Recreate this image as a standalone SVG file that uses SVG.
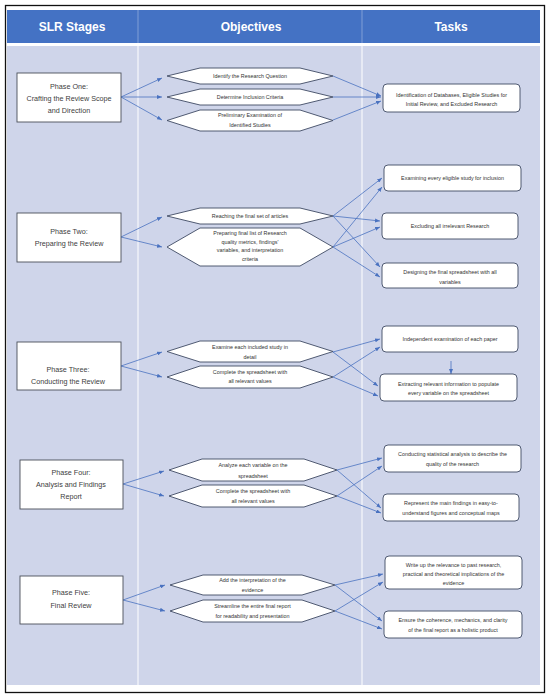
<svg xmlns="http://www.w3.org/2000/svg" width="550" height="696" viewBox="0 0 550 696">
<style>
.hdr{font-family:"Liberation Sans",Arial,sans-serif;font-weight:bold;font-size:12px;fill:#fff;text-anchor:middle}
.ph{fill:#fff;stroke:#4a4f5a;stroke-width:0.9}
.pt{font-family:"Liberation Sans",Arial,sans-serif;font-size:7.2px;fill:#404040;text-anchor:middle}
.hx{fill:#fff;stroke:#3e4a63;stroke-width:0.9}
.ht{font-family:"Liberation Sans",Arial,sans-serif;font-size:5.4px;fill:#333;text-anchor:middle}
.tb{fill:#fff;stroke:#3e4a63;stroke-width:0.9}
.tt{font-family:"Liberation Sans",Arial,sans-serif;font-size:5.4px;fill:#333;text-anchor:middle}
.c{stroke:#4a72c0;stroke-width:0.8;fill:none;marker-end:url(#ah)}
</style>
<defs>
<marker id="ah" viewBox="0 0 10 8" refX="10" refY="4" markerWidth="5" markerHeight="4" markerUnits="userSpaceOnUse" orient="auto">
<path d="M0,0 L10,4 L0,8 z" fill="#4a72c0"/>
</marker>
</defs>
<rect x="0" y="0" width="550" height="696" fill="#fff"/>
<rect x="5.5" y="5.5" width="539" height="687" fill="#fff" stroke="#111" stroke-width="1.3"/>
<g id="header">
<rect x="7" y="10" width="533" height="33" fill="#4472C4"/>
<line x1="138" y1="10" x2="138" y2="43" stroke="#8faadc" stroke-width="0.8"/>
<line x1="362" y1="10" x2="362" y2="43" stroke="#8faadc" stroke-width="0.8"/>
<text class="hdr" x="72" y="31">SLR Stages</text>
<text class="hdr" x="251" y="31">Objectives</text>
<text class="hdr" x="451" y="31">Tasks</text>
</g>
<g id="body">
<rect x="7" y="46" width="533" height="639" fill="#CFD5EA"/>
<line x1="138" y1="46" x2="138" y2="685" stroke="#fff" stroke-width="1"/>
<line x1="362" y1="46" x2="362" y2="685" stroke="#fff" stroke-width="1"/>
</g>
<g id="connectors">
<line class="c" x1="121" y1="97" x2="162" y2="78"/>
<line class="c" x1="121" y1="97" x2="162" y2="97"/>
<line class="c" x1="121" y1="97" x2="162" y2="120"/>
<line class="c" x1="333" y1="76" x2="381" y2="96"/>
<line class="c" x1="333" y1="97" x2="381" y2="97"/>
<line class="c" x1="333" y1="120" x2="381" y2="101"/>
<line class="c" x1="121" y1="237" x2="162" y2="217"/>
<line class="c" x1="121" y1="237" x2="162" y2="247"/>
<line class="c" x1="333" y1="216" x2="382" y2="178"/>
<line class="c" x1="333" y1="216" x2="380" y2="221"/>
<line class="c" x1="333" y1="216" x2="380" y2="267"/>
<line class="c" x1="333" y1="247" x2="382" y2="187"/>
<line class="c" x1="333" y1="247" x2="380" y2="227"/>
<line class="c" x1="333" y1="247" x2="380" y2="277"/>
<line class="c" x1="121" y1="366" x2="162" y2="352"/>
<line class="c" x1="121" y1="366" x2="162" y2="377"/>
<line class="c" x1="333" y1="352" x2="380" y2="339"/>
<line class="c" x1="333" y1="352" x2="378" y2="386"/>
<line class="c" x1="333" y1="377" x2="380" y2="347"/>
<line class="c" x1="333" y1="377" x2="378" y2="396"/>
<line class="c" x1="451" y1="361" x2="451" y2="374"/>
<line class="c" x1="123" y1="484" x2="164" y2="471"/>
<line class="c" x1="123" y1="484" x2="164" y2="496"/>
<line class="c" x1="337" y1="470" x2="382" y2="458"/>
<line class="c" x1="337" y1="470" x2="381" y2="508"/>
<line class="c" x1="337" y1="496" x2="382" y2="466"/>
<line class="c" x1="337" y1="496" x2="381" y2="513"/>
<line class="c" x1="123" y1="600" x2="165" y2="585"/>
<line class="c" x1="123" y1="600" x2="165" y2="611"/>
<line class="c" x1="335" y1="585" x2="383" y2="574"/>
<line class="c" x1="335" y1="585" x2="382" y2="621"/>
<line class="c" x1="335" y1="611" x2="383" y2="582"/>
<line class="c" x1="335" y1="611" x2="382" y2="629"/>
</g>
<g id="phase1">
<rect class="ph" x="17" y="73" width="104" height="49"/>
<text class="pt" x="69" y="88.5">Phase One:</text>
<text class="pt" x="69" y="100.5">Crafting the  Review Scope</text>
<text class="pt" x="69" y="112.5">and Direction</text>
</g>
<g id="obj1a"><polygon class="hx" points="167,76 200,68 300,68 333,76 300,84 200,84"/><text class="ht" x="250" y="78">Identify the Research Question</text></g>
<g id="obj1b"><polygon class="hx" points="167,97 200,89 300,89 333,97 300,105 200,105"/><text class="ht" x="250" y="99">Determine Inclusion Criteria</text></g>
<g id="obj1c"><polygon class="hx" points="167,120.5 200,110 300,110 333,120.5 300,131 200,131"/><text class="ht" x="250" y="117">Preliminary Examination of</text><text class="ht" x="250" y="126.5">Identified Studies</text></g>
<g id="task1"><rect class="tb" x="383" y="84" width="137" height="28" rx="4"/><text class="tt" x="451.5" y="97">Identification of Databases, Eligible Studies for</text><text class="tt" x="451.5" y="105.5">Initial Review, and Excluded Research</text></g>

<g id="phase2">
<rect class="ph" x="17" y="213" width="104" height="49"/>
<text class="pt" x="69" y="233.5">Phase Two:</text>
<text class="pt" x="69" y="245.5">Preparing  the  Review</text>
</g>
<g id="obj2a"><polygon class="hx" points="167,216 200,208 300,208 333,216 300,224 200,224"/><text class="ht" x="250" y="218">Reaching the final set of articles</text></g>
<g id="obj2b"><polygon class="hx" points="167,247 200,228 300,228 333,247 300,266 200,266"/><text class="ht" x="250" y="235">Preparing final list of Research</text><text class="ht" x="250" y="243.5">quality metrics, findings'</text><text class="ht" x="250" y="252">variables, and interpretation</text><text class="ht" x="250" y="260.5">criteria</text></g>
<g id="task2a"><rect class="tb" x="384" y="165" width="137" height="26" rx="4"/><text class="tt" x="452.5" y="180">Examining every eligible study for inclusion</text></g>
<g id="task2b"><rect class="tb" x="382" y="213" width="136" height="26" rx="4"/><text class="tt" x="450" y="228">Excluding all irrelevant Research</text></g>
<g id="task2c"><rect class="tb" x="382" y="263" width="136" height="25" rx="4"/><text class="tt" x="450" y="274">Designing the final spreadsheet with all</text><text class="tt" x="450" y="283.5">variables</text></g>

<g id="phase3">
<rect class="ph" x="17" y="342" width="104" height="48"/>
<text class="pt" x="68" y="372">Phase Three:</text>
<text class="pt" x="68" y="384">Conducting  the  Review</text>
</g>
<g id="obj3a"><polygon class="hx" points="167,351.5 200,341 300,341 333,351.5 300,362 200,362"/><text class="ht" x="250" y="349">Examine each included study in</text><text class="ht" x="250" y="358.5">detail</text></g>
<g id="obj3b"><polygon class="hx" points="167,377 200,366 300,366 333,377 300,388 200,388"/><text class="ht" x="250" y="374">Complete the spreadsheet with</text><text class="ht" x="250" y="383">all relevant values</text></g>
<g id="task3a"><rect class="tb" x="382" y="326" width="136" height="26" rx="4"/><text class="tt" x="450" y="341">Independent examination of each paper</text></g>
<g id="task3b"><rect class="tb" x="380" y="374" width="137" height="27" rx="4"/><text class="tt" x="448.5" y="386">Extracting relevant information to populate</text><text class="tt" x="448.5" y="395">every variable on the spreadsheet</text></g>

<g id="phase4">
<rect class="ph" x="20" y="460" width="103" height="49"/>
<text class="pt" x="71" y="475">Phase Four:</text>
<text class="pt" x="71" y="487">Analysis and Findings</text>
<text class="pt" x="71" y="499">Report</text>
</g>
<g id="obj4a"><polygon class="hx" points="169,470 202,459 304,459 337,470 304,481 202,481"/><text class="ht" x="253" y="467">Analyze each variable on the</text><text class="ht" x="253" y="477.5">spreadsheet</text></g>
<g id="obj4b"><polygon class="hx" points="169,496 202,485 304,485 337,496 304,507 202,507"/><text class="ht" x="253" y="493">Complete the spreadsheet with</text><text class="ht" x="253" y="502.5">all relevant values</text></g>
<g id="task4a"><rect class="tb" x="384" y="445" width="137" height="27" rx="4"/><text class="tt" x="452.5" y="456">Conducting statistical analysis to describe the</text><text class="tt" x="452.5" y="465.5">quality of the research</text></g>
<g id="task4b"><rect class="tb" x="383" y="494" width="136" height="27" rx="4"/><text class="tt" x="451" y="505">Represent the main findings in easy-to-</text><text class="tt" x="451" y="515">understand figures and conceptual maps</text></g>

<g id="phase5">
<rect class="ph" x="20" y="576" width="103" height="48"/>
<text class="pt" x="71" y="595">Phase Five:</text>
<text class="pt" x="71" y="608">Final Review</text>
</g>
<g id="obj5a"><polygon class="hx" points="170,585 203,575 302,575 335,585 302,595 203,595"/><text class="ht" x="252.5" y="582">Add the interpretation of the</text><text class="ht" x="252.5" y="592">evidence</text></g>
<g id="obj5b"><polygon class="hx" points="170,611 203,600 302,600 335,611 302,622 203,622"/><text class="ht" x="252.5" y="608">Streamline the entire final report</text><text class="ht" x="252.5" y="618">for readability and presentation</text></g>
<g id="task5a"><rect class="tb" x="385" y="556" width="137" height="33" rx="4"/><text class="tt" x="453.5" y="567">Write up the relevance to past research,</text><text class="tt" x="453.5" y="576">practical and theoretical implications of the</text><text class="tt" x="453.5" y="585">evidence</text></g>
<g id="task5b"><rect class="tb" x="384" y="611" width="138" height="27" rx="4"/><text class="tt" x="453" y="622">Ensure the coherence, mechanics, and clarity</text><text class="tt" x="453" y="632">of the final report as a holistic product</text></g>
</svg>
